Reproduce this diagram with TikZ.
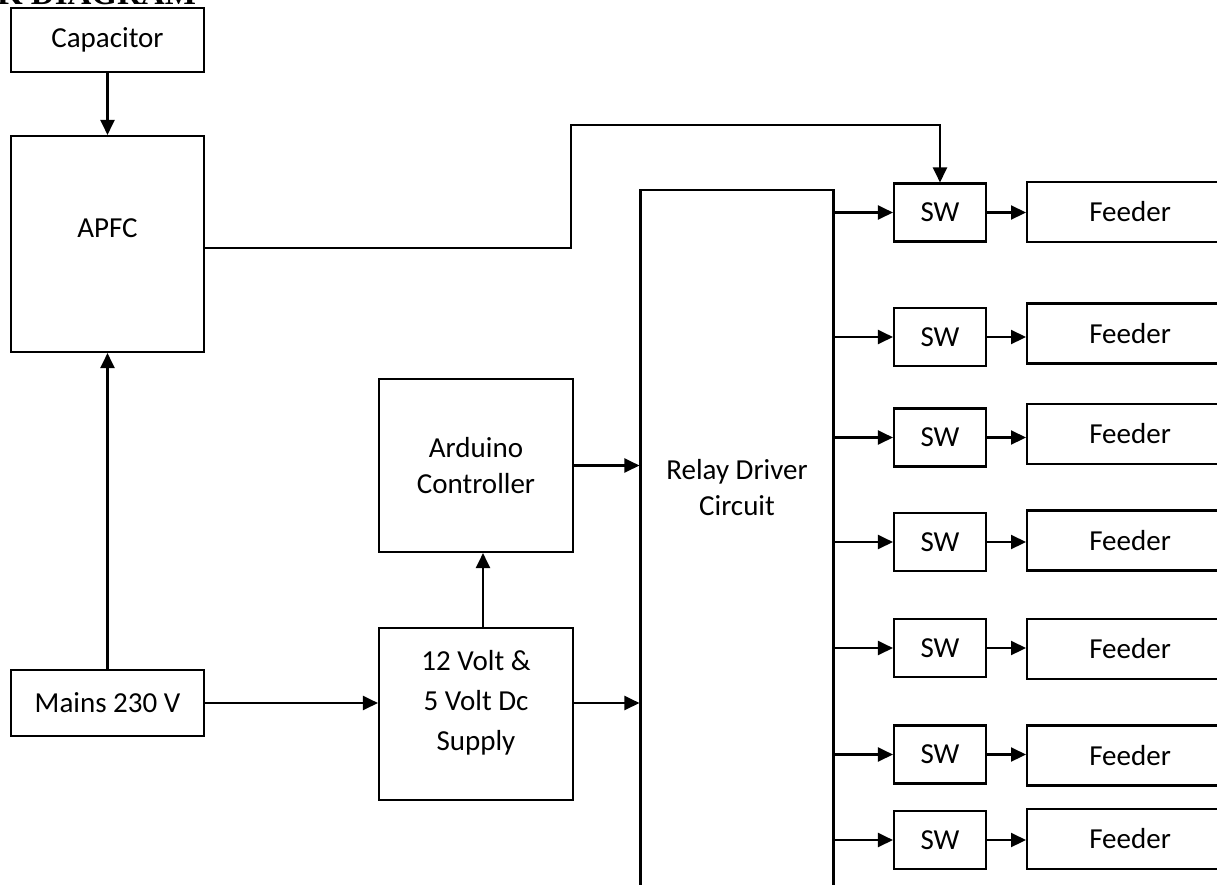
\documentclass[tikz,border=0pt]{standalone}
\usepackage{fontspec}
\setmainfont{Carlito}
\newfontfamily\headfont{Liberation Serif}
\usepackage{tikz}
\usetikzlibrary{arrows.meta,calc,positioning}

\begin{document}
\begin{tikzpicture}[x=1pt,y=-1pt,>={Triangle[length=15pt,width=14pt]},
    line width=2.1pt,
    blk/.style={draw,line width=2.1pt,inner sep=0pt,minimum width=193pt,align=center},
    swbox/.style={blk,minimum width=92pt,minimum height=58pt},
    fdbox/.style={blk,minimum width=206pt,minimum height=60pt,anchor=west},
    font=\fontsize{29}{36}\selectfont]
  \path[use as bounding box] (0,0) rectangle (1217,884);
  \clip (0,0) rectangle (1217,884);
  % cropped heading
  \node[anchor=base east,inner sep=0pt,font=\headfont\bfseries\fontsize{33}{36}\selectfont] (head) at (197,4) {BLOCK DIAGRAM};
  % left column
  \node[blk,minimum height=64pt] (cap) at (107.5,40) {Capacitor};
  \node[blk,minimum height=216pt] (apfc) at (107.5,244) {};
  \node (apfctxt) at (107.5,228) {APFC};
  \node[blk,minimum height=66pt] (mains) at (107.5,703) {Mains 230 V};
  % middle column
  \node[blk,minimum width=194pt,minimum height=173pt] (ard) at (476,465.5) {Arduino\\Controller};
  \node[blk,minimum width=194pt,minimum height=172pt] (supply) at (476,714) {};
  \node[align=center,font=\fontsize{29}{40}\selectfont] (supplytxt) at (476,703) {12 Volt \&\\5 Volt Dc\\Supply};
  \node[blk,minimum height=800pt,anchor=north] (relay) at (737,189) {};
  \node[align=center] (relaytxt) at (737,488) {Relay Driver\\Circuit};
  % switches and feeders
  \foreach \i/\ys/\yf in {1/212.5/212, 2/337/333.5, 3/437.5/434, 4/542/540.5, 5/648/649, 6/754.5/755.5, 7/840/839}{
    \node[swbox] (sw\i) at (940,\ys) {SW};
    \node[fdbox] (fd\i) at (1026,\yf) {Feeder};
    \draw[->] (sw\i.west -| relay.east) -- (sw\i.west);
    \draw[->] (sw\i.east) -- (sw\i.east -| fd\i.west);
  }
  % connections
  \draw[->] (cap.south) -- (apfc.north);
  \draw[->] (mains.north) -- (apfc.south);
  \draw[->] (mains.east) -- (mains.east -| supply.west);
  \draw[->] ([xshift=7pt]supply.north) -- ([xshift=7pt]ard.south);
  \draw[->] (ard.east) -- (ard.east -| relay.west);
  \draw[->] (mains.east -| supply.east) -- (mains.east -| relay.west);
  \coordinate (bend) at (571,125);
  \draw[->] ([yshift=-4pt]apfc.east) -| (bend) -| (sw1.north);
\end{tikzpicture}
\end{document}
